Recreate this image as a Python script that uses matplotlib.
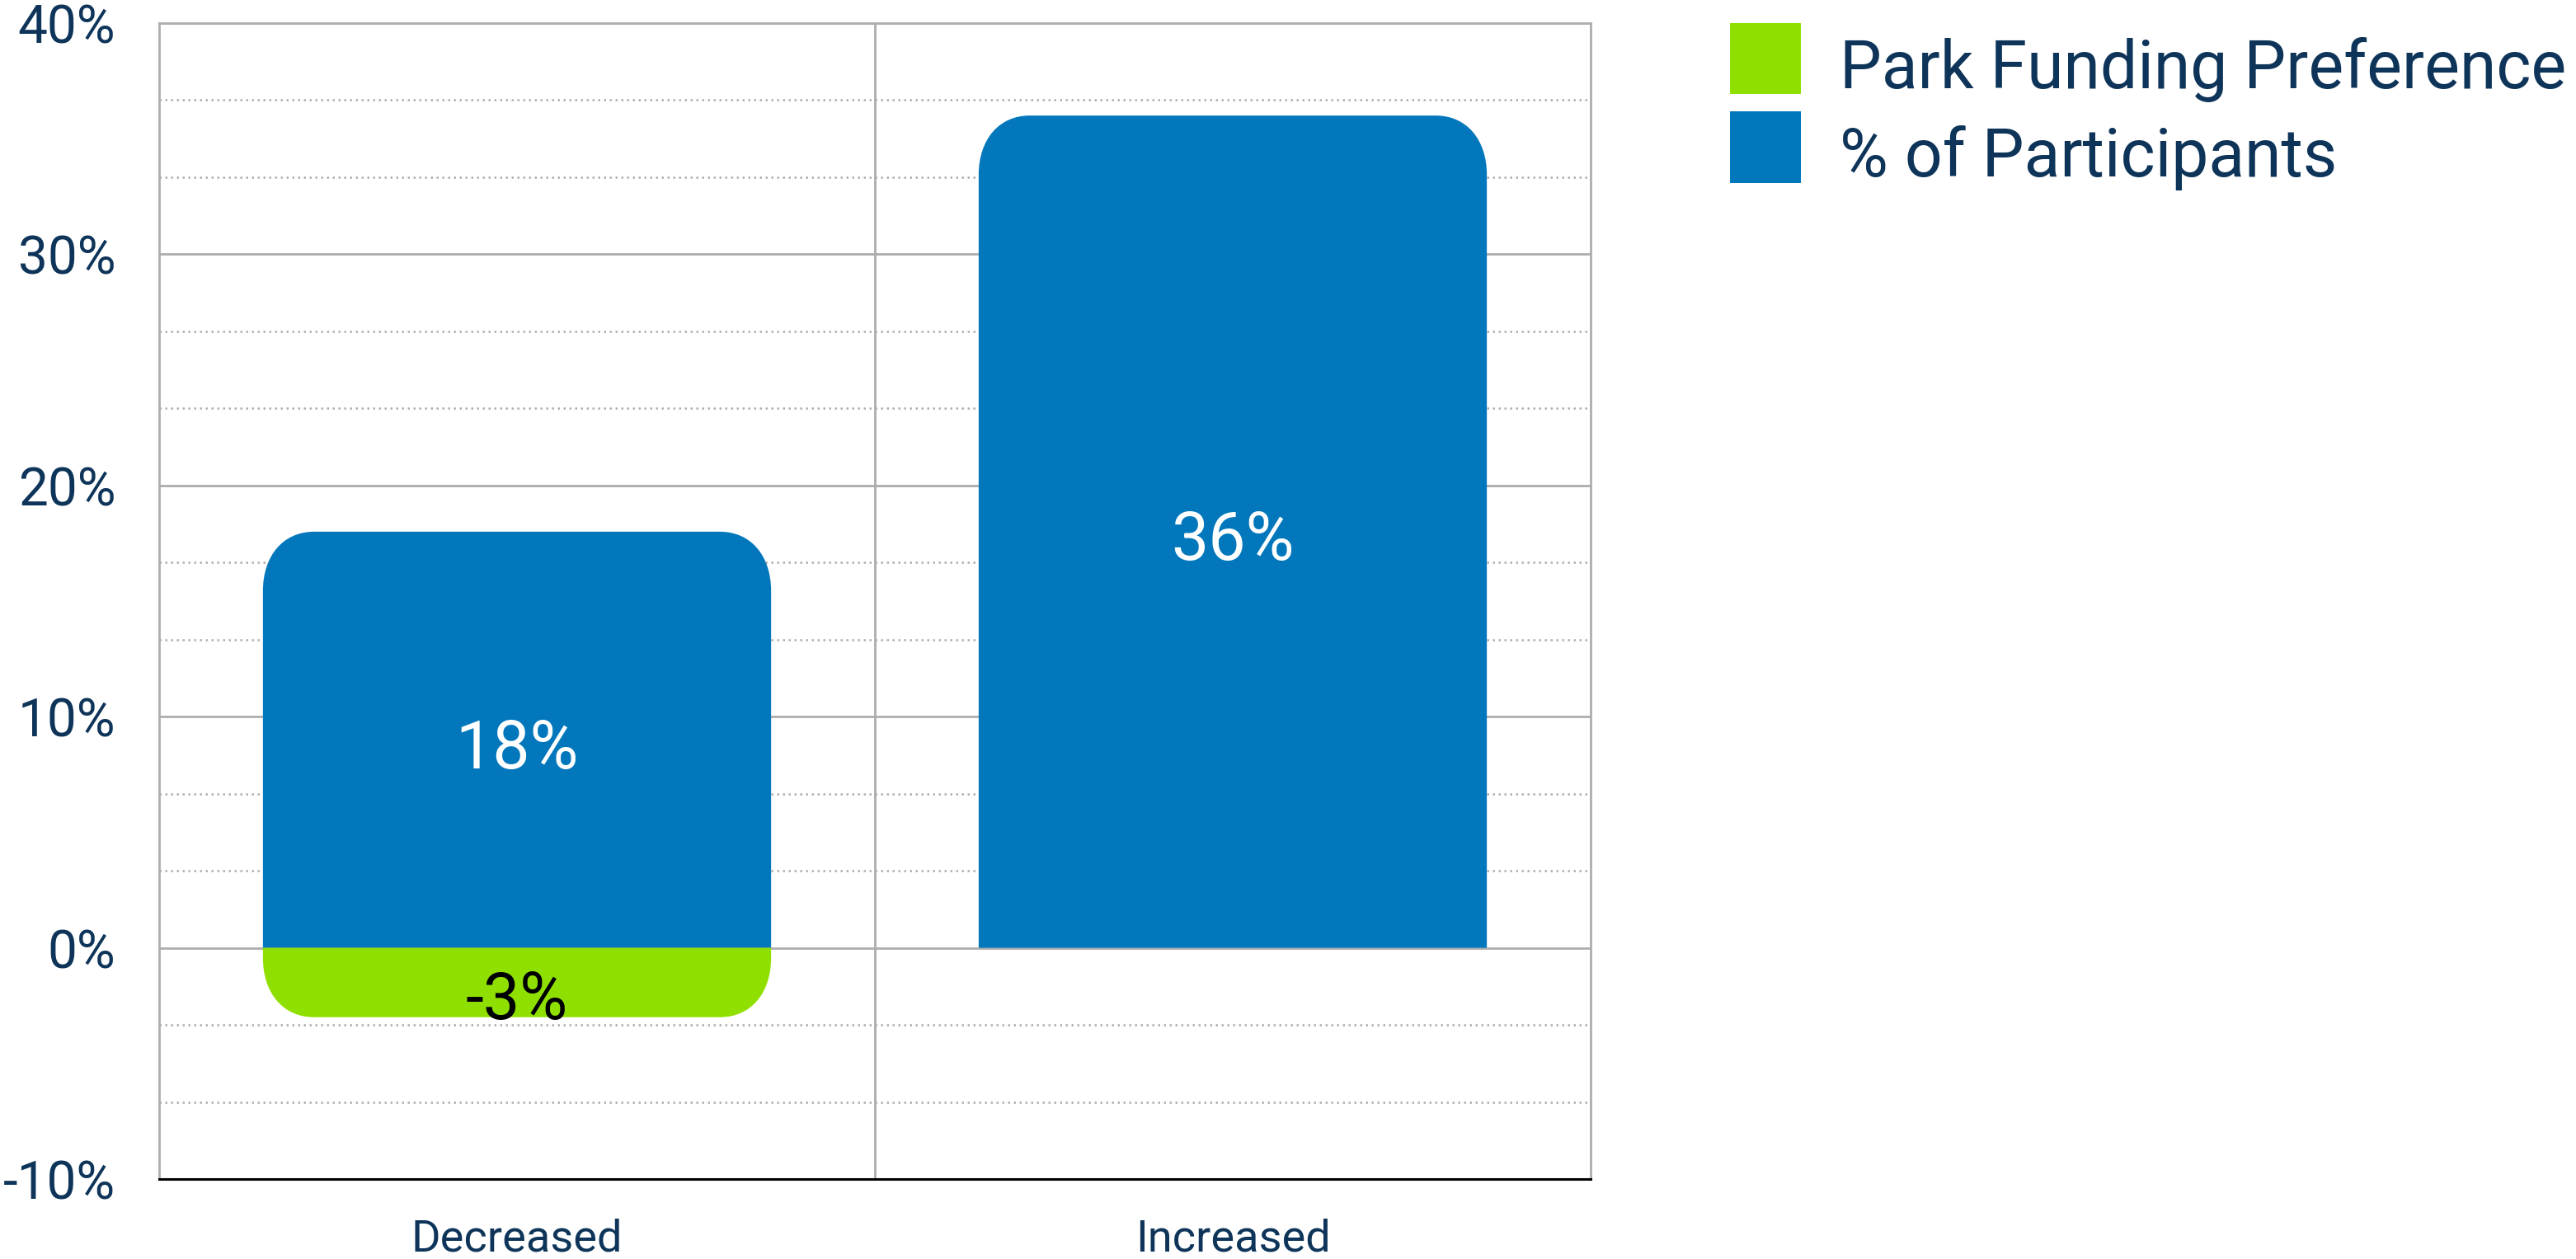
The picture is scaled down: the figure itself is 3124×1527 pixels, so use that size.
import numpy as np
import matplotlib.pyplot as plt
from matplotlib.path import Path
from matplotlib.patches import PathPatch
from matplotlib.ticker import MultipleLocator, FuncFormatter

# data
categories = ['Decreased', 'Increased']
participants = [18, 36]          # % of Participants
funding_pref = [-3, 0]           # Park Funding Preference
series_names = ['Park Funding Preference', '% of Participants']

navy = '#0e3559'
blue = '#0277bc'
green = '#8fe000'
grid_grey = '#adadad'


def rounded_bar(ax, rect, rxpx, rypx, color, k=0.6):
    """Replace a bar with a path rounded at its outer end (radii in pixels)."""
    x0, y0 = rect.get_x(), rect.get_y()
    w, h = rect.get_width(), rect.get_height()
    if h == 0:
        rect.set_visible(False)
        return
    # pixel radius -> data units
    t = ax.transData
    p0 = t.transform((0, 0))
    p1 = t.transform((1, 1))
    rx = rxpx / abs(p1[0] - p0[0])
    ry = min(rypx / abs(p1[1] - p0[1]), abs(h))
    s = 1 if h > 0 else -1
    base = y0
    end = y0 + h
    x1 = x0 + w
    c = 1 - k
    verts = [
        (x0, base),
        (x0, end - s * ry),
        (x0, end - s * ry * c), (x0 + rx * c, end), (x0 + rx, end),
        (x1 - rx, end),
        (x1 - rx * c, end), (x1, end - s * ry * c), (x1, end - s * ry),
        (x1, base),
        (x0, base),
    ]
    codes = [Path.MOVETO, Path.LINETO,
             Path.CURVE4, Path.CURVE4, Path.CURVE4,
             Path.LINETO,
             Path.CURVE4, Path.CURVE4, Path.CURVE4,
             Path.LINETO, Path.CLOSEPOLY]
    rect.set_visible(False)
    ax.add_patch(PathPatch(Path(verts, codes), facecolor=color,
                           edgecolor='none', zorder=3))


plt.rcParams['font.family'] = ['Roboto', 'DejaVu Sans']

fig = plt.figure(figsize=(31.24, 15.27), dpi=100)
ax = fig.add_axes([193 / 3124, 97 / 1527, 1736 / 3124, 1402 / 1527])

x = np.arange(len(categories))
ax.set_xlim(-0.5, 1.5)
ax.set_ylim(-10, 40)

bars_p = ax.bar(x, participants, width=0.71, color=blue,
                label=series_names[1], zorder=3)
bars_f = ax.bar(x, funding_pref, width=0.71, color=green,
                label=series_names[0], zorder=3)

for r in bars_p:
    rounded_bar(ax, r, 62, 72, blue)
for r in bars_f:
    rounded_bar(ax, r, 62, 72, green)

# value labels
for xi, v in zip(x, participants):
    if v:
        ax.text(xi, v / 2 - 0.45, f'{v}%', ha='center', va='center',
                color='white', fontsize=58, zorder=4)
for xi, v in zip(x, funding_pref):
    if v:
        ax.text(xi, v / 2 - 0.8, f'{v}%', ha='center', va='center',
                color='black', fontsize=57, zorder=4)

# grid
ax.yaxis.set_major_locator(MultipleLocator(10))
ax.yaxis.set_minor_locator(MultipleLocator(10 / 3))
ax.yaxis.set_major_formatter(FuncFormatter(lambda v, p: f'{v:.0f}%'))
ax.grid(axis='y', which='major', color=grid_grey, lw=2, zorder=0)
ax.grid(axis='y', which='minor', color=grid_grey, lw=1.8,
        linestyle=(0, (1, 1.8)), zorder=0)
ax.axvline(0.5, color=grid_grey, lw=2, zorder=0)
ax.set_axisbelow(True)

ax.set_xticks(x)
ax.set_xticklabels(categories)
ax.tick_params(axis='both', which='both', length=0)
ax.tick_params(axis='y', pad=38, labelsize=46, labelcolor=navy)
ax.tick_params(axis='x', pad=34, labelsize=39, labelcolor=navy)

for side in ['left', 'right', 'top']:
    ax.spines[side].set_color(grid_grey)
    ax.spines[side].set_linewidth(2)
ax.spines['bottom'].set_color('black')
ax.spines['bottom'].set_linewidth(2.2)

# legend
handles = [bars_f[0], bars_p[0]]
leg = fig.legend(handles, series_names, loc='upper left',
                 bbox_to_anchor=(2098 / 3124, 1 - 28 / 1527),
                 frameon=False, borderpad=0, borderaxespad=0,
                 handlelength=1.07, handleheight=1.27, handletextpad=0.58,
                 labelspacing=0.25, prop={'size': 58})
for t in leg.get_texts():
    t.set_color(navy)
    t.set_y(-9)
for hnd in leg.legend_handles:
    hnd.set_visible(True)

fig.savefig('out.png', dpi=100)
